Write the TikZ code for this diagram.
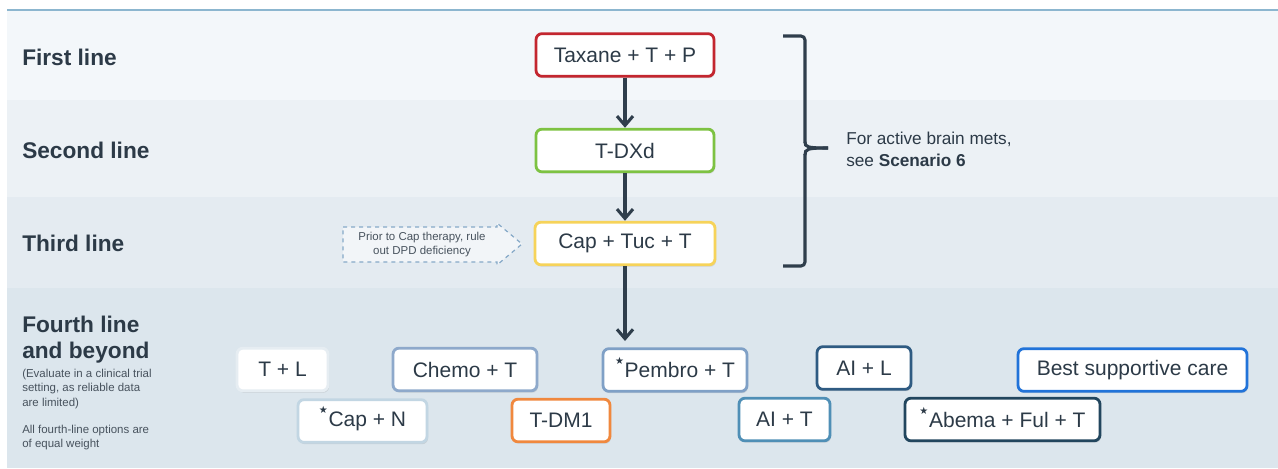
\documentclass[tikz,border=0pt]{standalone}
\usepackage{fontspec}
\setmainfont{Liberation Sans}
\newfontfamily\symfont{DejaVu Sans}
\usetikzlibrary{arrows.meta,shadows}

\definecolor{bandA}{HTML}{F3F7FA}
\definecolor{bandB}{HTML}{ECF1F5}
\definecolor{bandC}{HTML}{E4EBF1}
\definecolor{bandD}{HTML}{DCE6ED}
\definecolor{rule}{HTML}{8CB6CF}
\definecolor{ink}{HTML}{2C3A47}
\definecolor{note}{HTML}{48535E}
\definecolor{flow}{HTML}{2F3E4C}
\definecolor{cRed}{HTML}{C3262F}
\definecolor{cGreen}{HTML}{7DC242}
\definecolor{cYellow}{HTML}{F6D35A}
\definecolor{cWhite}{HTML}{E6EDF2}
\definecolor{cChemo}{HTML}{8EA9CB}
\definecolor{cPembro}{HTML}{7FA0C6}
\definecolor{cAIL}{HTML}{2F5B82}
\definecolor{cBest}{HTML}{2173D9}
\definecolor{cCapN}{HTML}{C2D6E3}
\definecolor{cOrange}{HTML}{F0883E}
\definecolor{cAIT}{HTML}{4F8FB6}
\definecolor{cAbema}{HTML}{22465E}
\definecolor{dashblue}{HTML}{86A9C8}

% small raised star in front of a regimen name (takes no vertical room)
\newcommand{\mystar}{\raisebox{9.5pt}[0pt][0pt]{\symfont\fontsize{7.5pt}{7.5pt}\selectfont ★}\hspace{0.5pt}}

\tikzset{
  rx/.style={minimum width=#1*0.75pt},
  drugbox/.style={draw=#1, line width=2.1pt, fill=white, rounded corners=4.5pt,
    minimum height=32pt, inner sep=0pt, text=ink,
    font=\fontsize{15.75pt}{18pt}\selectfont,
    drop shadow={shadow xshift=0.8pt, shadow yshift=-1.4pt, opacity=0.22}},
  rowlabel/.style={anchor=west, inner sep=0pt, text=ink,
    font=\fontsize{17pt}{19.5pt}\selectfont\bfseries, align=left},
  smallnote/.style={anchor=west, inner sep=0pt, text=note,
    font=\fontsize{8.6pt}{10.7pt}\selectfont, align=left},
  flowarrow/.style={draw=flow, line width=2.3pt,
    -{Straight Barb[length=7pt,width=12pt]}},
}

\begin{document}
\begin{tikzpicture}[x=0.75pt,y=-0.75pt]
\useasboundingbox (0,0) rectangle (1278,468);
\fill[white] (0,0) rectangle (1278,468);

% row bands
\fill[bandA] (7,10) rectangle (1278,100);
\fill[bandB] (7,100) rectangle (1278,197);
\fill[bandC] (7,197) rectangle (1278,288);
\fill[bandD] (7,288) rectangle (1278,468);
\draw[rule, line width=1.4pt] (7,10) -- (1278,10);

% row labels
\node[rowlabel] (l1) at (22,57) {First line};
\node[rowlabel] (l2) at (22,150) {Second line};
\node[rowlabel] (l3) at (22,243) {Third line};
\node[rowlabel] (l4) at (22,340) {Fourth line\\and beyond};
\node[smallnote] (n1) at (22,389) {(Evaluate in a clinical trial\\setting, as reliable data\\are limited)};
\node[smallnote] (n2) at (22,437.5) {All fourth-line options are\\of equal weight};

% main sequence
\node[drugbox=cRed, rx=178] (tax) at (625,55) {Taxane + T + P};
\node[drugbox=cGreen, rx=178] (tdxd) at (625,150.5) {T-DXd};
\node[drugbox=cYellow, rx=180] (cap) at (625,243.5) {Cap + Tuc + T};
\coordinate (fourth) at (625,341);

\draw[flowarrow] (tax.south) -- (tdxd.north);
\draw[flowarrow] (tdxd.south) -- (cap.north);
\draw[flowarrow] (cap.south) -- (fourth);

% DPD reminder arrow
\draw[dashblue, dashed, line width=0.9pt, fill=white, fill opacity=0.55, draw opacity=1]
  (343,227) -- (497,227) -- (497,223) -- (522,244) -- (497,265) -- (497,262) -- (343,262) -- cycle;
\node[text=note, inner sep=0pt, align=center, font=\fontsize{8.6pt}{10.5pt}\selectfont] (dpd) at (422,245)
  {Prior to Cap therapy, rule\\out DPD deficiency};

% brain mets bracket
\draw[flow, line width=2.3pt, rounded corners=3pt]
  (783,36) -- (805,36) -- (805,143);
\draw[flow, line width=2.3pt]
  (805,142) .. controls (805,147) and (807,148) .. (828,148);
\draw[flow, line width=2.3pt]
  (828,148) .. controls (807,148) and (805,149) .. (805,155);
\draw[flow, line width=2.3pt, rounded corners=3pt]
  (805,154) -- (805,266) -- (783,266);
\node[anchor=west, inner sep=0pt, text=ink, align=left,
  font=\fontsize{12.9pt}{16.5pt}\selectfont] (brain) at (846,149)
  {For active brain mets,\\see \textbf{Scenario 6}};

% fourth-line options
\node[drugbox=cWhite, rx=91] (tl) at (282.5,369.5) {T + L};
\node[drugbox=cChemo, rx=144] (chemo) at (465,369.5) {Chemo + T};
\node[drugbox=cPembro, rx=144] (pembro) at (675,370) {\mystar Pembro + T\hspace{8pt}};
\node[drugbox=cAIL, rx=94] (ail) at (864,368) {AI + L};
\node[drugbox=cBest, rx=229] (best) at (1132.5,370) {Best supportive care};
\node[drugbox=cCapN, rx=129] (capn) at (362.5,421) {\mystar Cap + N\hspace{8pt}};
\node[drugbox=cOrange, rx=98] (tdm1) at (561,420.5) {T-DM1};
\node[drugbox=cAIT, rx=91] (ait) at (784.5,419.5) {AI + T};
\node[drugbox=cAbema, rx=195] (abema) at (1002.5,419.5) {\mystar Abema + Ful + T\hspace{10pt}};
\end{tikzpicture}
\end{document}
